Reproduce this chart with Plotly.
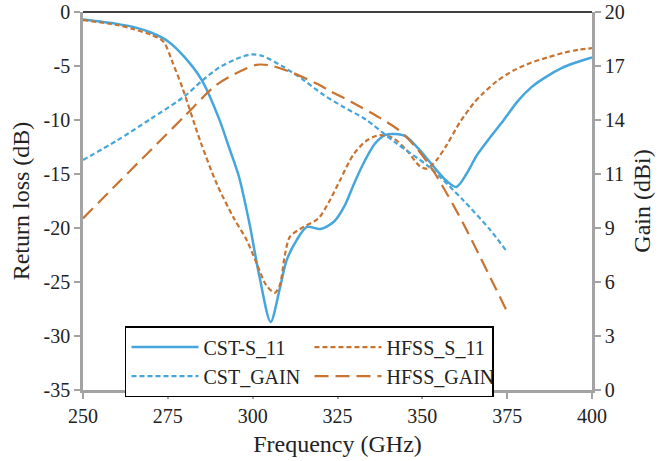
import plotly.graph_objects as go

# ---------------- data ----------------
cst_s11_f = [250, 260, 265, 270, 275, 280, 285, 290, 293, 296, 299, 302, 305.3, 308, 310, 313, 316, 320,
             324, 327, 330, 333, 336, 339, 342, 345, 349, 353, 357, 360, 363, 366, 370, 374, 378, 382,
             386, 391, 395, 400]
cst_s11_v = [-0.7, -1.1, -1.4, -1.9, -2.7, -4.2, -6.3, -9.8, -12.5, -15.3, -19.5, -24.5, -28.7, -25.6,
             -23.0, -21.1, -19.9, -20.1, -19.4, -18.0, -15.8, -13.8, -12.2, -11.4, -11.3, -11.5, -12.7,
             -14.2, -15.6, -16.2, -15.0, -13.3, -11.6, -10.0, -8.3, -7.0, -6.1, -5.2, -4.7, -4.2]

hfss_s11_f = [250, 260, 265, 270, 273.7, 276.5, 279.5, 284.5, 289.4, 294.3, 298.2, 301.2, 304, 306.5,
              308, 309.5, 311, 315, 319.4, 322.8, 325.7, 329.7, 333.6, 337.5, 341.5, 345.4, 349.3, 351.3,
              354.2, 357.2, 361.1, 365, 368, 372, 377, 382, 387, 392, 396, 400]
hfss_s11_v = [-0.75, -1.2, -1.6, -2.1, -2.75, -4.75, -7.2, -11.9, -15.9, -19.0, -21.1, -23.3, -25.3,
              -26.0, -25.3, -22.5, -20.8, -19.9, -19.1, -17.4, -15.6, -13.2, -11.9, -11.4, -11.7, -12.8,
              -14.3, -14.5, -13.7, -12.3, -10.2, -8.5, -7.5, -6.4, -5.4, -4.7, -4.2, -3.75, -3.5, -3.35]

cst_gain_f = [250, 260, 270, 280, 285, 290, 295, 299.6, 303, 309, 315, 321, 327, 333, 342, 352, 362, 370, 375]
cst_gain_g = [12.17, 13.2, 14.35, 15.55, 16.35, 17.05, 17.5, 17.76, 17.67, 17.1, 16.4, 15.6, 14.95,
              14.35, 13.1, 11.8, 10.05, 8.47, 7.3]

hfss_gain_f = [250, 260, 270, 280, 289, 295, 301, 305, 311, 319, 323, 329, 337.5, 343.4, 348.3, 353.2,
               357.2, 362.1, 367, 371, 375]
hfss_gain_g = [9.08, 10.9, 12.7, 14.5, 16.1, 16.75, 17.2, 17.18, 16.84, 16.2, 15.8, 15.25, 14.4, 13.7,
               12.8, 11.6, 10.4, 8.8, 7.05, 5.6, 4.14]

x_ticks = [250, 275, 300, 325, 350, 375, 400]
left_ticks = [0, -5, -10, -15, -20, -25, -30, -35]
left_tick_text = ['0', '-5', '-10', '-15', '-20', '-25', '-30', '-35']
right_tick_text = ['0', '3', '6', '9', '11', '14', '17', '20']

BLUE = '#45a6dc'
ORANGE = '#c8732f'
FONT = 'Liberation Serif'
AXC = '#a3a3a3'
TXT = '#222222'

fig = go.Figure()
fig.add_trace(go.Scatter(x=cst_s11_f, y=cst_s11_v, name='CST-S_11', mode='lines',
                         line=dict(color=BLUE, width=2.5, shape='spline', smoothing=0.8)))
fig.add_trace(go.Scatter(x=hfss_s11_f, y=hfss_s11_v, name='HFSS_S_11', mode='lines',
                         line=dict(color=ORANGE, width=2.2, dash='5px,3px', shape='spline', smoothing=0.8)))
fig.add_trace(go.Scatter(x=cst_gain_f, y=cst_gain_g, name='CST_GAIN', mode='lines', yaxis='y2',
                         line=dict(color=BLUE, width=2.2, dash='5px,3px', shape='spline', smoothing=0.8)))
fig.add_trace(go.Scatter(x=hfss_gain_f, y=hfss_gain_g, name='HFSS_GAIN', mode='lines', yaxis='y2',
                         line=dict(color=ORANGE, width=2.2, dash='14px,7px', shape='spline', smoothing=0.8)))

fig.update_layout(
    width=658, height=461,
    margin=dict(l=83, r=66, t=12, b=71),
    paper_bgcolor='white', plot_bgcolor='white',
    font=dict(family=FONT, size=20, color=TXT),
    showlegend=True,
    legend=dict(orientation='h', x=0.0825, xanchor='left', y=0.169, yanchor='top',
                bgcolor='white', bordercolor='black', borderwidth=1.5,
                font=dict(family=FONT, size=20, color=TXT),
                itemwidth=67, entrywidth=101, entrywidthmode='pixels', tracegroupgap=0),
    xaxis=dict(range=[250, 400], tickvals=x_ticks, ticks='outside', ticklen=6, tickcolor=AXC,
               tickwidth=2, showline=True, linecolor=AXC, linewidth=2.5, showgrid=False,
               zeroline=False, automargin=False, ticklabeloverflow='allow',
               title=dict(text='Frequency (GHz)', standoff=10)),
    yaxis=dict(range=[-35, 0], tickvals=left_ticks, ticktext=left_tick_text, ticks='outside',
               ticklen=6, tickcolor=AXC,
               tickwidth=2, showline=True, linecolor=AXC, linewidth=2.5, showgrid=False,
               zeroline=False, automargin=False, ticklabeloverflow='allow',
               title=dict(text='Return loss (dB)', standoff=8)),
    yaxis2=dict(range=[0, 20], overlaying='y', side='right',
                tickvals=[i * 20 / 7 for i in range(8)], ticktext=right_tick_text,
                ticks='outside', ticklen=6, tickcolor=AXC, tickwidth=2, showline=True,
                linecolor=AXC, linewidth=2.5, showgrid=False, zeroline=False, automargin=False,
                ticklabeloverflow='allow',
                title=dict(text='Gain (dBi)', standoff=10)),
    shapes=[dict(type='line', xref='paper', yref='paper', x0=0, x1=1, y0=1, y1=1,
                 line=dict(color='black', width=1.5))],
)

# remove the page's default 8px body margin so the figure fills the window exactly
fig.write_html('out.html', config={'displayModeBar': False},
               post_script="document.body.style.margin='0';")
